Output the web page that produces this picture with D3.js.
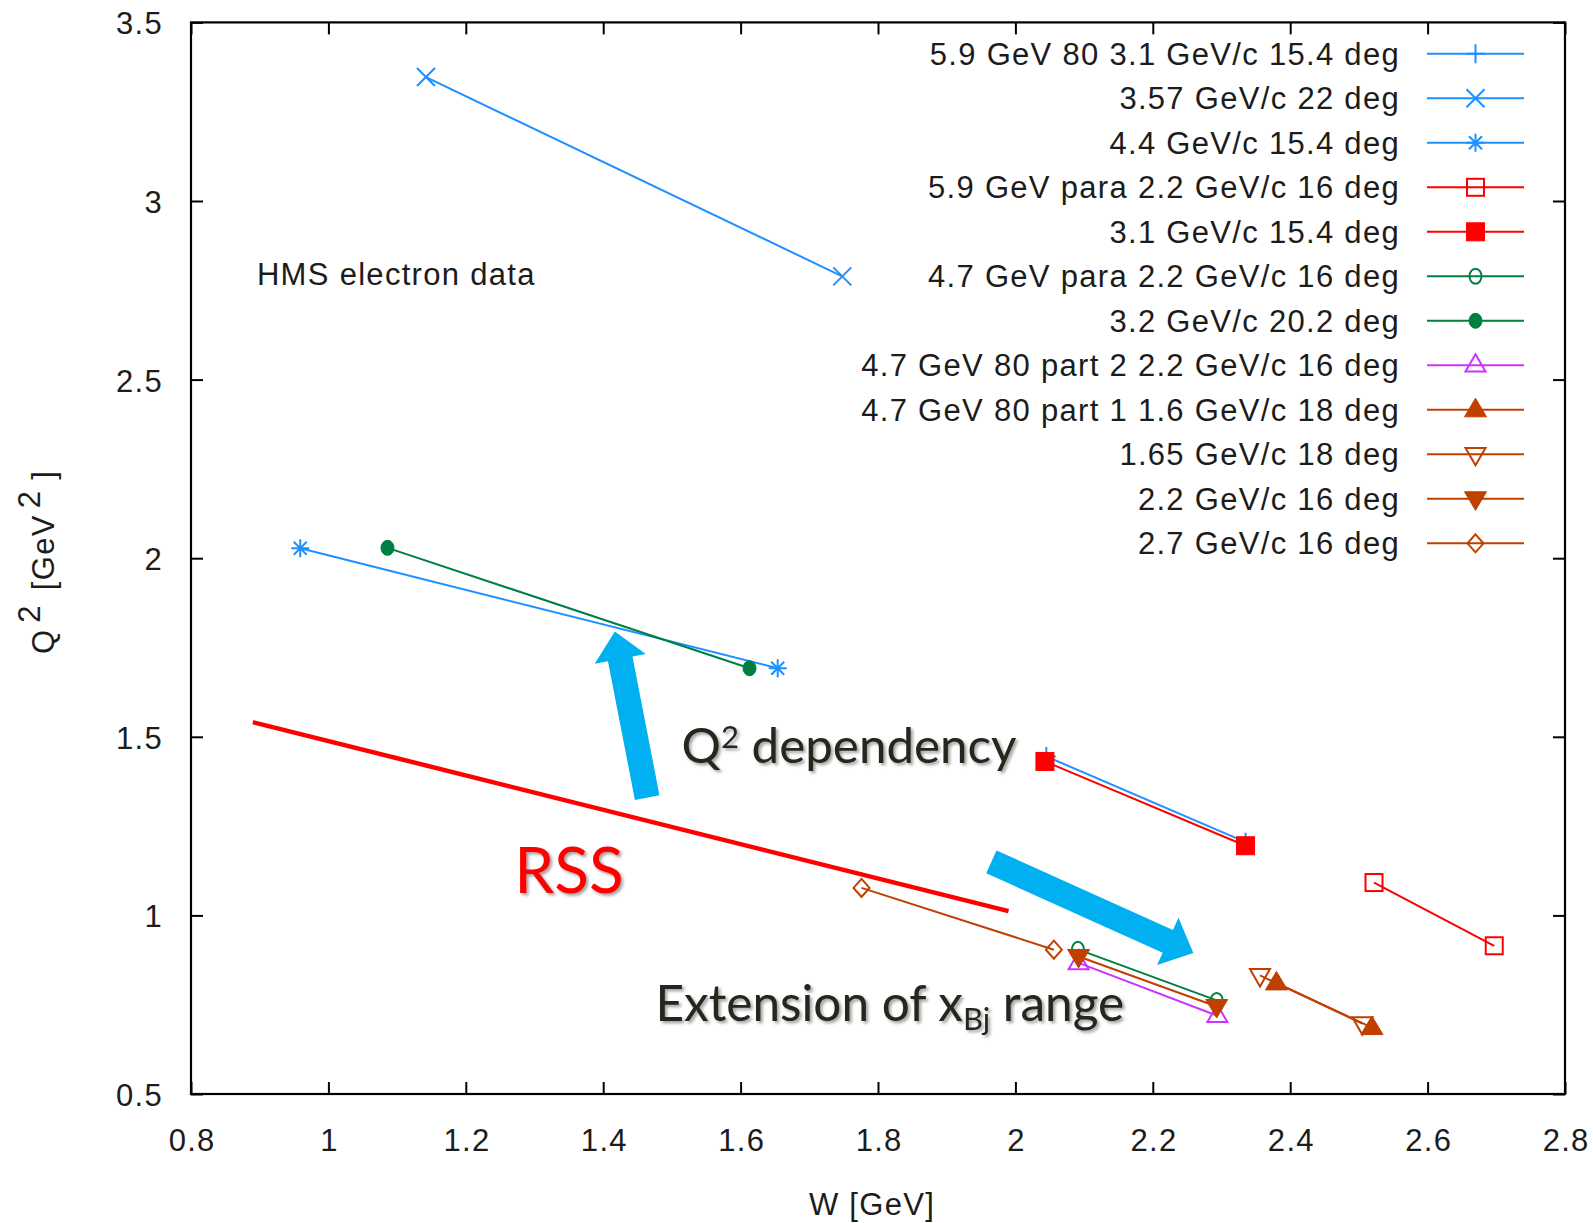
<!DOCTYPE html>
<html>
<head>
<meta charset="utf-8">
<script src="https://cdn.jsdelivr.net/npm/d3@7"></script>
<style>
  html, body { margin: 0; padding: 0; background: #fff; }
  svg { display: block; }
</style>
</head>
<body>
<svg id="chart" width="1593" height="1223"></svg>
<script>
// HMS electron settings: W vs Q^2 coverage, one segment per spectrometer setting
const seriesLabels = [
  "5.9 GeV 80 3.1 GeV/c 15.4 deg",
  "3.57 GeV/c 22 deg",
  "4.4 GeV/c 15.4 deg",
  "5.9 GeV para 2.2 GeV/c 16 deg",
  "3.1 GeV/c 15.4 deg",
  "4.7 GeV para 2.2 GeV/c 16 deg",
  "3.2 GeV/c 20.2 deg",
  "4.7 GeV 80 part 2 2.2 GeV/c 16 deg",
  "4.7 GeV 80 part 1 1.6 GeV/c 18 deg",
  "1.65 GeV/c 18 deg",
  "2.2 GeV/c 16 deg",
  "2.7 GeV/c 16 deg"
];
const seriesColors = [
  "#1e90ff", "#1e90ff", "#1e90ff",
  "#ff0000", "#ff0000",
  "#008040", "#008040",
  "#cc33ff",
  "#c04000", "#c04000", "#c04000", "#c04000"
];
const seriesMarkers = [
  "plus", "cross", "star",
  "squareOpen", "squareFilled",
  "circleOpen", "circleFilled",
  "triUpOpen", "triUpFilled",
  "triDownOpen", "triDownFilled",
  "diamondOpen"
];
// W [GeV] of each setting's two points
const seriesW = [
  [2.045, 2.335],
  [1.142, 1.748],
  [0.959, 1.654],
  [2.522, 2.697],
  [2.043, 2.335],
  [2.091, 2.293],
  [1.086, 1.613],
  [2.092, 2.294],
  [2.380, 2.519],
  [2.356, 2.505],
  [2.092, 2.293],
  [1.776, 2.056]
];
// Q^2 [GeV^2] of each setting's two points
const seriesQ2 = [
  [1.445, 1.205],
  [3.347, 2.789],
  [2.028, 1.692],
  [1.092, 0.915],
  [1.431, 1.195],
  [0.905, 0.762],
  [2.029, 1.692],
  [0.867, 0.719],
  [0.811, 0.686],
  [0.832, 0.697],
  [0.885, 0.745],
  [1.077, 0.904]
];

const xTicks = [0.8, 1, 1.2, 1.4, 1.6, 1.8, 2, 2.2, 2.4, 2.6, 2.8];
const yTicks = [0.5, 1, 1.5, 2, 2.5, 3, 3.5];

// RSS coverage boundary (W, Q^2 end points)
const rssW = [0.890, 1.990];
const rssQ2 = [1.541, 1.012];

// annotation arrows: tail and tip in (W, Q^2)
const arrowTailW = [1.464, 1.965];
const arrowTailQ2 = [1.330, 1.150];
const arrowTipW = [1.417, 2.259];
const arrowTipQ2 = [1.795, 0.895];

// ---------------------------------------------------------------
const svg = d3.select("#chart");
const plotLeft = 191, plotRight = 1565, plotTop = 22.4, plotBottom = 1094;

const x = d3.scaleLinear().domain([0.8, 2.8]).range([plotLeft, plotRight]);
const y = d3.scaleLinear().domain([0.5, 3.5]).range([plotBottom, plotTop]);

const gnuFont = "'Liberation Sans', Arial, sans-serif";
const gnuSize = 31;
const gnuSpacing = 1.3;
const textColor = "#1c1c1c";

const defs = svg.append("defs");
const shadow = defs.append("filter").attr("id", "softShadow")
  .attr("x", "-10%").attr("y", "-20%").attr("width", "130%").attr("height", "150%");
shadow.append("feDropShadow")
  .attr("dx", 2.2).attr("dy", 2.2).attr("stdDeviation", 1.4)
  .attr("flood-color", "#000").attr("flood-opacity", 0.38);

// axes: ticks point inward, mirrored on top and right
const fmt = v => String(v);
const styleAxis = g => {
  g.select(".domain").remove();
  g.selectAll(".tick line").attr("stroke", "#000").attr("stroke-width", 2);
  g.selectAll(".tick text")
    .attr("fill", textColor)
    .style("font-family", gnuFont)
    .style("font-size", gnuSize + "px")
    .style("letter-spacing", gnuSpacing + "px");
};

svg.append("g")
  .attr("transform", `translate(0,${plotBottom})`)
  .call(d3.axisBottom(x).tickValues(xTicks).tickFormat(fmt)
    .tickSizeInner(-12).tickSizeOuter(0).tickPadding(35))
  .call(styleAxis)
  .call(g => g.selectAll(".tick text").attr("dx", gnuSpacing / 2));

svg.append("g")
  .attr("transform", `translate(0,${plotTop})`)
  .call(d3.axisTop(x).tickValues(xTicks).tickFormat("")
    .tickSizeInner(-12).tickSizeOuter(0))
  .call(styleAxis);

svg.append("g")
  .attr("transform", `translate(${plotLeft},0)`)
  .call(d3.axisLeft(y).tickValues(yTicks).tickFormat(fmt)
    .tickSizeInner(-12).tickSizeOuter(0).tickPadding(28))
  .call(styleAxis)
  .call(g => g.selectAll(".tick text").attr("dy", "0.37em"));

svg.append("g")
  .attr("transform", `translate(${plotRight},0)`)
  .call(d3.axisRight(y).tickValues(yTicks).tickFormat("")
    .tickSizeInner(-12).tickSizeOuter(0))
  .call(styleAxis);

svg.append("rect")
  .attr("x", plotLeft).attr("y", plotTop)
  .attr("width", plotRight - plotLeft).attr("height", plotBottom - plotTop)
  .attr("fill", "none").attr("stroke", "#000").attr("stroke-width", 2.2);

// axis titles
const gnuText = sel => sel
  .attr("fill", textColor)
  .style("font-family", gnuFont)
  .style("font-size", gnuSize + "px")
  .style("letter-spacing", gnuSpacing + "px");

svg.append("text")
  .attr("x", 872).attr("y", 1215)
  .attr("text-anchor", "middle")
  .call(gnuText)
  .text("W [GeV]");

const yTitle = svg.append("text")
  .attr("transform", "translate(54,562) rotate(-90)")
  .attr("text-anchor", "middle")
  .call(gnuText);
yTitle.append("tspan").text("Q");
yTitle.append("tspan").attr("dx", 6).attr("dy", -14).text("2");
yTitle.append("tspan").attr("dx", 4).attr("dy", 14).text(" [GeV");
yTitle.append("tspan").attr("dx", 6).attr("dy", -14).text("2");
yTitle.append("tspan").attr("dy", 14).text(" ]");

svg.append("text")
  .attr("x", x(0.896)).attr("y", y(2.765))
  .call(gnuText)
  .text("HMS electron data");

// point markers, gnuplot style
function markerShape(sel, type, color) {
  const open = s => s.attr("fill", "none").attr("stroke", color).attr("stroke-width", 2);
  const solid = s => s.attr("fill", color).attr("stroke", color).attr("stroke-width", 1);
  switch (type) {
    case "plus":
      sel.append("path").attr("d", "M-9.5,0H9.5M0,-9.5V9.5").call(open); break;
    case "cross":
      sel.append("path").attr("d", "M-9,-9L9,9M-9,9L9,-9").call(open); break;
    case "star":
      sel.append("path").attr("d", "M-9,0H9M0,-9V9M-6.5,-6.5L6.5,6.5M-6.5,6.5L6.5,-6.5").call(open); break;
    case "squareOpen":
      sel.append("rect").attr("x", -8.5).attr("y", -8.5).attr("width", 17).attr("height", 17).call(open); break;
    case "squareFilled":
      sel.append("rect").attr("x", -9).attr("y", -9).attr("width", 18).attr("height", 18).call(solid); break;
    case "circleOpen":
      sel.append("ellipse").attr("rx", 6).attr("ry", 7.5).call(open); break;
    case "circleFilled":
      sel.append("ellipse").attr("rx", 6.5).attr("ry", 7.5).call(solid); break;
    case "triUpOpen":
      sel.append("path").attr("d", "M0,-11L10,6.3H-10Z").call(open); break;
    case "triUpFilled":
      sel.append("path").attr("d", "M0,-11.5L11,7H-11Z").call(solid); break;
    case "triDownOpen":
      sel.append("path").attr("d", "M0,11L10,-6.3H-10Z").call(open); break;
    case "triDownFilled":
      sel.append("path").attr("d", "M0,11.5L11,-7H-11Z").call(solid); break;
    case "diamondOpen":
      sel.append("path").attr("d", "M0,-9L8,0L0,9L-8,0Z").call(open); break;
  }
}

// data segments
const line = d3.line().x(d => x(d[0])).y(d => y(d[1]));
const plot = svg.append("g");
seriesLabels.forEach((label, i) => {
  const pts = seriesW[i].map((w, k) => [w, seriesQ2[i][k]]);
  const g = plot.append("g");
  g.append("path")
    .attr("d", line(pts))
    .attr("fill", "none")
    .attr("stroke", seriesColors[i])
    .attr("stroke-width", 2);
  pts.forEach(p => {
    g.append("g")
      .attr("transform", `translate(${x(p[0])},${y(p[1])})`)
      .call(markerShape, seriesMarkers[i], seriesColors[i]);
  });
});

// legend
const legend = svg.append("g");
const rowY0 = 53.8, rowStep = 44.5;
seriesLabels.forEach((label, i) => {
  const ry = rowY0 + i * rowStep;
  legend.append("text")
    .attr("x", 1400).attr("y", ry + 11)
    .attr("text-anchor", "end")
    .call(gnuText)
    .text(label);
  legend.append("line")
    .attr("x1", 1427).attr("x2", 1524).attr("y1", ry).attr("y2", ry)
    .attr("stroke", seriesColors[i]).attr("stroke-width", 2);
  legend.append("g")
    .attr("transform", `translate(1475.5,${ry})`)
    .call(markerShape, seriesMarkers[i], seriesColors[i]);
});

// RSS boundary line
svg.append("line")
  .attr("x1", x(rssW[0])).attr("y1", y(rssQ2[0]))
  .attr("x2", x(rssW[1])).attr("y2", y(rssQ2[1]))
  .attr("stroke", "#ff0000").attr("stroke-width", 4.5);

// block arrows
const shaftHalf = 12.5, headHalf = 26, headLen = 28;
arrowTailW.forEach((_, i) => {
  const tx = x(arrowTailW[i]), ty = y(arrowTailQ2[i]);
  const hx = x(arrowTipW[i]), hy = y(arrowTipQ2[i]);
  const len = Math.hypot(hx - tx, hy - ty);
  const ux = (hx - tx) / len, uy = (hy - ty) / len;
  const nx = -uy, ny = ux;
  const bx = hx - ux * headLen, by = hy - uy * headLen;
  const pts = [
    [tx + nx * shaftHalf, ty + ny * shaftHalf],
    [bx + nx * shaftHalf, by + ny * shaftHalf],
    [bx + nx * headHalf, by + ny * headHalf],
    [hx, hy],
    [bx - nx * headHalf, by - ny * headHalf],
    [bx - nx * shaftHalf, by - ny * shaftHalf],
    [tx - nx * shaftHalf, ty - ny * shaftHalf]
  ];
  svg.append("path")
    .attr("d", "M" + pts.map(p => p.join(",")).join("L") + "Z")
    .attr("fill", "#00b0f0");
});

// slide annotations
const noteFont = "Lato, 'Open Sans', sans-serif";
const noteColor = "#27251f";

svg.append("text")
  .attr("x", x(1.2705)).attr("y", y(1.0634))
  .attr("fill", "#ff0000")
  .attr("filter", "url(#softShadow)")
  .style("font-family", noteFont).style("font-size", "64px")
  .text("RSS");

const q2note = svg.append("text")
  .attr("x", x(1.514)).attr("y", y(1.427))
  .attr("fill", noteColor)
  .attr("filter", "url(#softShadow)")
  .style("font-family", noteFont).style("font-size", "49.3px");
q2note.append("tspan").text("Q");
q2note.append("tspan").attr("dy", -15).style("font-size", "31px").text("2");
q2note.append("tspan").attr("dy", 15).text(" dependency");

const xbjNote = svg.append("text")
  .attr("x", x(1.476)).attr("y", y(0.705))
  .attr("fill", noteColor)
  .attr("filter", "url(#softShadow)")
  .style("font-family", noteFont).style("font-size", "49.5px");
xbjNote.append("tspan").text("Extension of x");
xbjNote.append("tspan").attr("dy", 9).style("font-size", "31px").text("Bj");
xbjNote.append("tspan").attr("dy", -9).text(" range");
</script>
</body>
</html>
